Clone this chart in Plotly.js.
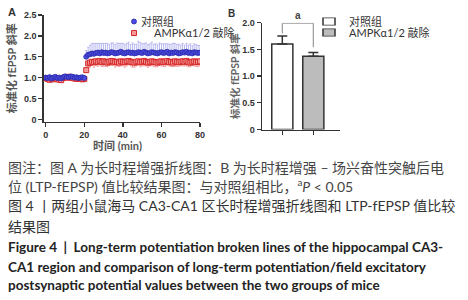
<!DOCTYPE html>
<html><head><meta charset="utf-8">
<script src="https://cdn.plot.ly/plotly-3.0.1.min.js"></script>
<style>html,body{margin:0;padding:0;background:#fff}#chart{width:468px;height:300px}</style>
</head><body><div id="chart"></div>
<script>
// ---------- Panel A data (time course) ----------
const timeMin = [0,1,2,3,4,5,6,7,8,9,10,11,12,13,14,15,16,17,18,19,20,21,22,23,24,25,26,27,28,29,30,31,32,33,34,35,36,37,38,39,40,41,42,43,44,45,46,47,48,49,50,51,52,53,54,55,56,57,58,59,60,61,62,63,64,65,66,67,68,69,70,71,72,73,74,75,76,77,78,79,80];
const ctrlLTP = [1.00,0.99,1.01,0.98,1.00,1.02,0.99,1.00,0.98,1.01, 1.03,1.02,1.01,1.03,1.02,1.00,1.01,0.99,1.00,1.01, 0.99,1.50,1.55,1.56,1.58,1.57,1.59,1.60,1.58,1.61, 1.59,1.60,1.58,1.59,1.61,1.60,1.58,1.59,1.60,1.62, 1.59,1.58,1.60,1.61,1.59,1.60,1.58,1.59,1.61,1.60, 1.59,1.62,1.60,1.58,1.59,1.61,1.60,1.59,1.58,1.60, 1.61,1.59,1.60,1.62,1.58,1.60,1.59,1.61,1.60,1.58, 1.59,1.61,1.60,1.62,1.59,1.60,1.58,1.61,1.60,1.59, 1.60];
const ctrlSEM = [0.06,0.05,0.07,0.05,0.06,0.04,0.05,0.06,0.05,0.04, 0.05,0.04,0.05,0.04,0.05,0.06,0.05,0.06,0.05,0.04, 0.06,0.15,0.18,0.22,0.24,0.25,0.23,0.22,0.24,0.21, 0.23,0.22,0.24,0.20,0.22,0.23,0.21,0.24,0.22,0.20, 0.23,0.21,0.22,0.24,0.20,0.23,0.22,0.21,0.26,0.24, 0.22,0.20,0.23,0.21,0.22,0.24,0.20,0.22,0.21,0.23, 0.20,0.22,0.21,0.19,0.22,0.20,0.23,0.21,0.20,0.22, 0.19,0.21,0.18,0.20,0.19,0.21,0.18,0.20,0.19,0.18, 0.17];
const koLTP = [0.99,0.97,0.95,0.98,0.96,0.99,0.97,0.95,0.94,0.99, 1.01,1.00,1.02,1.00,0.99,0.98,0.97,0.99,0.98,0.96, 0.97,1.18,1.34,1.36,1.38,1.37,1.39,1.38,1.40,1.37, 1.39,1.38,1.36,1.38,1.40,1.39,1.37,1.38,1.36,1.39, 1.38,1.37,1.39,1.40,1.38,1.37,1.36,1.38,1.39,1.37, 1.38,1.40,1.38,1.36,1.37,1.39,1.38,1.37,1.36,1.38, 1.39,1.37,1.38,1.40,1.37,1.38,1.36,1.39,1.38,1.37, 1.38,1.39,1.38,1.40,1.37,1.36,1.38,1.39,1.37,1.38, 1.39];
const koSEM = [0.05,0.04,0.06,0.04,0.05,0.04,0.05,0.06,0.05,0.04, 0.04,0.03,0.04,0.03,0.04,0.05,0.04,0.05,0.04,0.05, 0.04,0.06,0.10,0.11,0.09,0.12,0.10,0.11,0.09,0.10, 0.12,0.11,0.10,0.09,0.11,0.10,0.12,0.10,0.09,0.11, 0.10,0.12,0.11,0.09,0.10,0.12,0.11,0.10,0.09,0.11, 0.10,0.12,0.10,0.11,0.09,0.10,0.12,0.11,0.10,0.09, 0.11,0.10,0.12,0.10,0.09,0.11,0.10,0.12,0.11,0.10, 0.09,0.11,0.10,0.12,0.11,0.10,0.09,0.11,0.10,0.12, 0.11];

// ---------- Panel B data (bars) ----------
const groupNames = ['对照组', 'AMPKα1/2 敲除'];
const groupPos = [0, 1];
const barMeans = [1.60, 1.37];
const barSEM = [0.15, 0.07];
const sigLabel = 'a';

// ---------- tick labels ----------
const aYTickVals = [0, 0.5, 1.0, 1.5, 2.0, 2.5];
const aYTickText = ['0', '0.5', '1.0', '1.5', '2.0', '2.5'];
const aXTickVals = [0, 20, 40, 60, 80];
const bYTickVals = [0, 0.5, 1.0, 1.5, 2.0];
const bYTickText = ['0', '0.5', '1.0', '1.5', '2.0'];

// ---------- text ----------
const yTitleText = '标准化 fEPSP 斜率';
const xTitleText = '时间 (min)';
const captionLines = [
  '图注：图 A 为长时程增强折线图：B 为长时程增强 – 场兴奋性突触后电',
  '位 (LTP-fEPSP) 值比较结果图：与对照组相比，<sup>a</sup><i>P</i> < 0.05',
  '图 4 丨两组小鼠海马 CA3-CA1 区长时程增强折线图和 LTP-fEPSP 值比较',
  '结果图',
  'Figure 4  |  Long-term potentiation broken lines of the hippocampal CA3-',
  'CA1 region and comparison of long-term potentiation/field excitatory',
  'postsynaptic potential values between the two groups of mice'
];

const W = 468, H = 300;
const px = v => v / W, py = v => 1 - v / H;
const tickFont = {family: 'Liberation Sans, Arial, sans-serif', size: 9, color: '#333', weight: 'bold'};
const cjk = "Lato, 'Noto Sans CJK SC', sans-serif";

const traces = [
  {
    x: timeMin, y: koLTP, type: 'scatter', mode: 'markers', name: groupNames[1],
    xaxis: 'x', yaxis: 'y', legend: 'legend2',
    marker: {symbol: 'square', size: 5, color: '#f29a9a', line: {color: '#d62828', width: 1}},
    error_y: {type: 'data', symmetric: false, array: koLTP.map(() => 0), arrayminus: koSEM, color: '#f08a8a', thickness: 0.8, width: 1}
  },
  {
    x: timeMin, y: ctrlLTP, type: 'scatter', mode: 'markers', name: groupNames[0],
    xaxis: 'x', yaxis: 'y', legend: 'legend',
    marker: {symbol: 'circle', size: 5, color: '#4a4ae0', line: {color: '#2a2aa8', width: 0.8}},
    error_y: {type: 'data', symmetric: false, array: ctrlSEM, arrayminus: ctrlLTP.map(() => 0), color: '#a8a8ec', thickness: 0.8, width: 1}
  },
  {
    x: [groupPos[0]], y: [barMeans[0]], type: 'bar', name: groupNames[0],
    xaxis: 'x2', yaxis: 'y2', legend: 'legend3', width: 0.68,
    marker: {color: '#ffffff', line: {color: '#333', width: 1.5}},
    error_y: {type: 'data', symmetric: false, array: [barSEM[0]], arrayminus: [0], color: '#333', thickness: 1.5, width: 5}
  },
  {
    x: [groupPos[1]], y: [barMeans[1]], type: 'bar', name: groupNames[1],
    xaxis: 'x2', yaxis: 'y2', legend: 'legend4', width: 0.68,
    marker: {color: '#bcbcbc', line: {color: '#333', width: 1.5}},
    error_y: {type: 'data', symmetric: false, array: [barSEM[1]], arrayminus: [0], color: '#333', thickness: 1.5, width: 5}
  }
];

const legFont = {family: cjk, size: 11, color: '#333'};
const mkLeg = (x, y) => ({x: px(x), y: py(y), xanchor: 'left', yanchor: 'middle', bgcolor: 'rgba(0,0,0,0)', borderwidth: 0, font: legFont, itemwidth: 30, tracegroupgap: 0});

const bracketY = 1.99;
const leftTop = barMeans[0] + barSEM[0] + 0.05;
const rightTop = barMeans[1] + barSEM[1] + 0.1;
const brStyle = {color: '#999', width: 1.2};

const C = {xanchor: 'center', yanchor: 'middle', xref: 'paper', yref: 'paper', showarrow: false};
const annotations = [
  Object.assign({text: '<b>A</b>', x: px(12), y: py(12.5), font: {family: 'Liberation Sans, Arial', size: 11, color: '#333'}}, C),
  Object.assign({text: '<b>B</b>', x: px(231), y: py(13.5), font: {family: 'Liberation Sans, Arial', size: 10, color: '#333'}}, C),
  Object.assign({text: '<b>' + xTitleText + '</b>', x: px(117), y: py(145), font: {family: cjk, size: 11, color: '#555'}}, C),
  {text: '<b>' + sigLabel + '</b>', x: 0.5, xref: 'x2', y: bracketY, yref: 'y2', xanchor: 'center', yanchor: 'bottom', showarrow: false, font: {family: 'Liberation Sans, Arial', size: 10, color: '#444'}}
];
const capY = [167.5, 185, 205.7, 226.7, 246.7, 266.7, 285];
captionLines.forEach((t, i) => {
  const eng = i >= 4;
  annotations.push({
    text: eng ? '<b>' + t + '</b>' : t,
    x: px(6), y: py(capY[i]), xref: 'paper', yref: 'paper', xanchor: 'left', yanchor: 'middle', showarrow: false,
    font: {family: cjk, size: eng ? 13.5 : 14, color: i < 2 ? '#444' : (eng ? '#222' : '#333')}
  });
});

const axBase = {ticks: 'outside', ticklen: 4, tickwidth: 1.3, tickcolor: '#333', showline: true, linecolor: '#333', linewidth: 1.5,
  showgrid: false, zeroline: false, tickfont: tickFont, automargin: false};

const layout = {
  width: W, height: H,
  margin: {l: 0, r: 0, t: 0, b: 0},
  paper_bgcolor: '#fff', plot_bgcolor: 'rgba(0,0,0,0)',
  showlegend: true,
  xaxis: Object.assign({}, axBase, {domain: [px(43.8), px(200)], range: [-1, 80], tickvals: aXTickVals, anchor: 'y'}),
  yaxis: Object.assign({}, axBase, {domain: [py(121.5), py(15)], range: [-0.05, 2.5], tickvals: aYTickVals, ticktext: aYTickText, anchor: 'x',
    title: {text: '<b>' + yTitleText + '</b>', font: {family: cjk, size: 11, color: '#555'}, standoff: 5}}),
  xaxis2: Object.assign({}, axBase, {domain: [px(262), px(340)], range: [-0.655, 1.86], tickvals: groupPos, showticklabels: false, anchor: 'y2'}),
  yaxis2: Object.assign({}, axBase, {domain: [py(129.5), py(22.7)], range: [0, 2.0], tickvals: bYTickVals, ticktext: bYTickText, anchor: 'x2',
    title: {text: '<b>' + yTitleText + '</b>', font: {family: cjk, size: 10.5, color: '#666'}, standoff: 0}}),
  legend: mkLeg(114, 21.5),
  legend2: mkLeg(114, 33),
  legend3: mkLeg(309, 21.5),
  legend4: mkLeg(309, 32.5),
  shapes: [
    {type: 'line', xref: 'x2', yref: 'y2', x0: groupPos[0], x1: groupPos[0], y0: leftTop, y1: bracketY, line: brStyle},
    {type: 'line', xref: 'x2', yref: 'y2', x0: groupPos[0], x1: groupPos[1], y0: bracketY, y1: bracketY, line: brStyle},
    {type: 'line', xref: 'x2', yref: 'y2', x0: groupPos[1], x1: groupPos[1], y0: rightTop, y1: bracketY, line: brStyle}
  ],
  annotations: annotations
};

Plotly.newPlot('chart', traces, layout, {staticPlot: true, displayModeBar: false}).then(gd => {
  // tighten gap between legend symbols and text (reference legends sit close)
  ['legend', 'legend2', 'legend3', 'legend4'].forEach(id => {
    gd.querySelectorAll('g.' + id + ' text.legendtext').forEach(t => t.setAttribute('x', 27));
  });
  ['legend3', 'legend4'].forEach(id => {
    gd.querySelectorAll('g.' + id + ' g.legendpoints path').forEach(p => {
      const tr = p.getAttribute('transform') || '';
      p.setAttribute('transform', tr + ' scale(1,0.6)');
    });
  });
});
</script></body></html>
